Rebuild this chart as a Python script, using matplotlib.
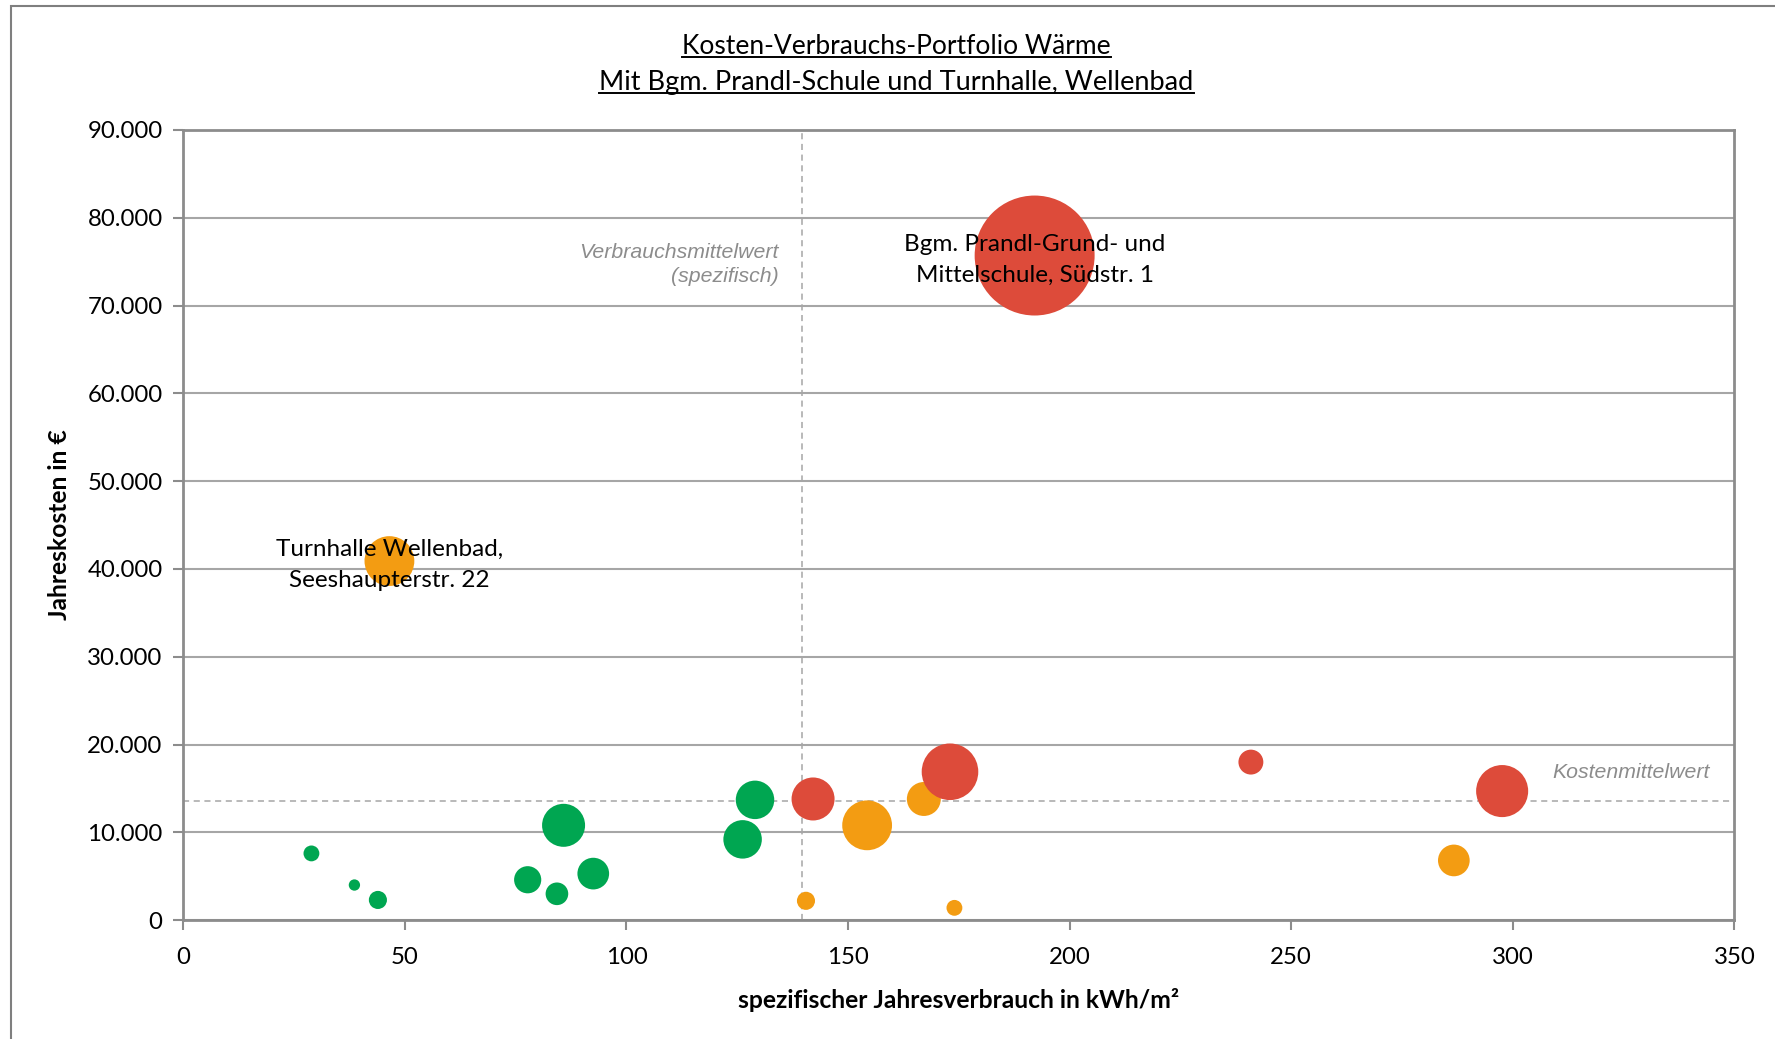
import numpy as np
import matplotlib
matplotlib.use("Agg")
import matplotlib.pyplot as plt
from matplotlib.ticker import FuncFormatter, MultipleLocator
from matplotlib.lines import Line2D
from matplotlib.patches import Rectangle

plt.rcParams['font.family'] = ['Lato', 'DejaVu Sans']

# spezifischer Verbrauch (kWh/m²), Jahreskosten (€), relative Blasengröße
gruen_x = [28.9, 38.6, 43.9, 77.7, 84.3, 85.8, 92.5, 126.2, 129.0]
gruen_y = [7600, 4000, 2300, 4600, 3000, 10800, 5300, 9200, 13700]
gruen_g = [196, 100, 256, 576, 400, 1444, 784, 1156, 1156]

orange_x = [46.5, 140.5, 154.3, 167.1, 174.0, 286.7]
orange_y = [40900, 2200, 10800, 13800, 1400, 6800]
orange_g = [1936, 256, 1936, 900, 196, 784]

rot_x = [142.1, 173.0, 192.1, 240.9, 297.6]
rot_y = [13800, 16900, 75700, 18000, 14700]
rot_g = [1444, 2500, 11236, 484, 2116]

verbrauch_mittel = 139.5
kosten_mittel = 13600

labels = [
    (192.1, 75700, "Bgm. Prandl-Grund- und\nMittelschule, Südstr. 1"),
    (46.5, 40900, "Turnhalle Wellenbad,\nSeeshaupterstr. 22"),
]

GREEN = "#00a651"
ORANGE = "#f39c12"
RED = "#dd4b3a"
GRID = "#a6a6a6"
SPINE = "#8c8c8c"

fig = plt.figure(figsize=(17.75, 10.39), dpi=100)
ax = fig.add_axes([0.1033, 0.1144, 0.8738, 0.7605])

# bubble area scale
k = 0.664
ax.scatter(gruen_x, gruen_y, s=np.array(gruen_g) * k, color=GREEN, zorder=3, linewidths=0)
ax.scatter(orange_x, orange_y, s=np.array(orange_g) * k, color=ORANGE, zorder=3, linewidths=0)
ax.scatter(rot_x, rot_y, s=np.array(rot_g) * k, color=RED, zorder=3, linewidths=0)

ax.axvline(verbrauch_mittel, color=GRID, lw=1.1, ls=(0, (4, 3)), zorder=2)
ax.axhline(kosten_mittel, color=GRID, lw=1.1, ls=(0, (4, 3)), zorder=2)

for x, y, t in labels:
    ax.annotate(t, (x, y), xytext=(0, -3), textcoords="offset points",
                ha="center", va="center", fontsize=17.5, color="black",
                linespacing=1.6, zorder=5)

ax.text(134.4, 74700, "Verbrauchsmittelwert\n(spezifisch)", ha="right", va="center",
        fontsize=15.3, style="italic", color="#8c8c8c", family="Liberation Sans",
        linespacing=1.35)
ax.text(344.4, 16800, "Kostenmittelwert", ha="right", va="center",
        fontsize=15.3, style="italic", color="#8c8c8c", family="Liberation Sans")

ax.set_xlim(0, 350)
ax.set_ylim(0, 90000)
ax.xaxis.set_major_locator(MultipleLocator(50))
ax.yaxis.set_major_locator(MultipleLocator(10000))
ax.yaxis.set_major_formatter(FuncFormatter(lambda v, p: f"{int(v):,}".replace(",", ".")))
ax.grid(axis="y", color=GRID, lw=1.5, zorder=0)
ax.set_axisbelow(True)
for s in ax.spines.values():
    s.set_color(SPINE)
    s.set_linewidth(2)
ax.tick_params(axis="both", direction="out", length=7, width=1.5, color=SPINE,
               labelsize=17.3)
ax.tick_params(axis="x", pad=12)
ax.tick_params(axis="y", pad=8)

ax.set_xlabel("spezifischer Jahresverbrauch in kWh/m²", fontsize=17.7, fontweight="bold", labelpad=15)
ax.set_ylabel("Jahreskosten in €", fontsize=17.7, fontweight="bold", labelpad=12)

# outer chart border (partly cropped)
fig.patches.append(Rectangle((0.0064, -0.1), 1.2, 1.0946, transform=fig.transFigure,
                             fill=False, edgecolor="#7f7f7f", lw=1.5))

t1 = fig.text(0.505, 0.9555, "Kosten-Verbrauchs-Portfolio Wärme", ha="center", va="center", fontsize=19)
t2 = fig.text(0.505, 0.921, "Mit Bgm. Prandl-Schule und Turnhalle, Wellenbad", ha="center", va="center", fontsize=19.5)

fig.canvas.draw()
r = fig.canvas.get_renderer()
inv = fig.transFigure.inverted()
for t in (t1, t2):
    bb = t.get_window_extent(r)
    (x0, y0), (x1, _) = inv.transform([(bb.x0, bb.y0 + 2), (bb.x1, bb.y0)])
    fig.lines.append(Line2D([x0, x1], [y0, y0], transform=fig.transFigure, color="black", lw=1.4))

fig.savefig("out.png", dpi=100)
